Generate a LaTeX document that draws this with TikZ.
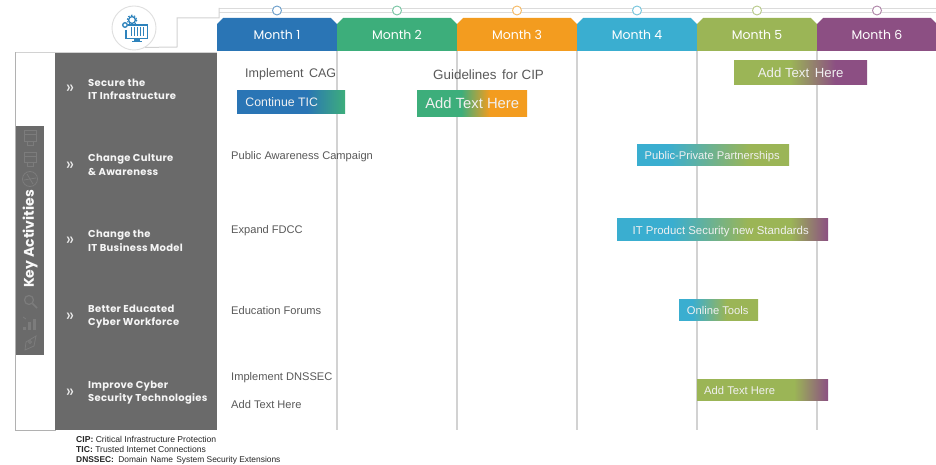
\documentclass[tikz,border=0pt]{standalone}
\usepackage{fontspec}
\setmainfont{Liberation Sans}
\newfontfamily\gothic{Poppins}
\newfontfamily\gothicwide[LetterSpace=3]{Poppins}
\usetikzlibrary{shapes.misc,shapes.geometric}
\definecolor{cA}{HTML}{2A75B5}
\definecolor{cB}{HTML}{3DAE7B}
\definecolor{cC}{HTML}{F39C1F}
\definecolor{cD}{HTML}{3AAED0}
\definecolor{cE}{HTML}{9BB556}
\definecolor{cF}{HTML}{8C4F83}
\definecolor{panel}{HTML}{6A6A6A}
\definecolor{gridc}{HTML}{D2D2D2}
\definecolor{body}{HTML}{595959}
\definecolor{faint}{HTML}{7C7C7C}
\pgfdeclarehorizontalshading{sTic}{100bp}{color(0bp)=(cA);color(57bp)=(cA);color(75bp)=(cB);color(100bp)=(cB)}
\pgfdeclarehorizontalshading{sAdd}{100bp}{color(0bp)=(cB);color(45bp)=(cB);color(58bp)=(cC);color(100bp)=(cC)}
\pgfdeclarehorizontalshading{sTop}{100bp}{color(0bp)=(cE);color(46bp)=(cE);color(63bp)=(cF);color(100bp)=(cF)}
\pgfdeclarehorizontalshading{sPub}{100bp}{color(0bp)=(cD);color(35bp)=(cD);color(62bp)=(cE);color(100bp)=(cE)}
\pgfdeclarehorizontalshading{sIT}{100bp}{color(0bp)=(cD);color(38bp)=(cD);color(56bp)=(cE);color(66bp)=(cE);color(75bp)=(cF);color(100bp)=(cF)}
\pgfdeclarehorizontalshading{sOnl}{100bp}{color(0bp)=(cD);color(33bp)=(cD);color(55bp)=(cE);color(100bp)=(cE)}
\pgfdeclarehorizontalshading{sLast}{100bp}{color(0bp)=(cE);color(62bp)=(cE);color(75bp)=(cF);color(100bp)=(cF)}
\tikzset{
  x=1pt,y=-1pt,
  tab/.style={chamfered rectangle,chamfered rectangle corners={north west,north east},chamfered rectangle xsep=3pt,chamfered rectangle ysep=3pt,
    minimum width=119.6pt,minimum height=33pt,inner sep=0pt,fill=#1,text=white,font=\gothic\fontsize{12.5}{14}\selectfont},
  bar/.style={rectangle,inner sep=0pt,text=white!88!gray,text height=10pt,text depth=0pt,font=\fontsize{11.2}{13}\selectfont,anchor=north west},
  gridline/.style={gridc,line width=1.2pt},
  topline/.style={gridc!80,line width=0.9pt},
  dot/.style={circle,draw=#1,fill=white,line width=0.9pt,minimum size=9pt,inner sep=0pt},
  act/.style={anchor=west,align=left,inner sep=0pt,text=white!92!gray,font=\gothicwide\bfseries\fontsize{10}{13.5}\selectfont},
  chev/.style={anchor=center,text=white!85!gray,font=\gothic\fontsize{18}{18}\selectfont},
  note/.style={anchor=west,inner sep=0pt,text=body,font=\fontsize{11.1}{13}\selectfont},
  legend/.style={anchor=west,inner sep=0pt,text=black!85,font=\fontsize{8.6}{10}\selectfont},
  faintline/.style={faint,line width=0.8pt},
  iconline/.style={cA!75!cD,line width=1.1pt}
}
\begin{document}
\begin{tikzpicture}
\useasboundingbox (0,0) rectangle (936,465);
\fill[white] (0,0) rectangle (936,465);
% coordinates
\coordinate (bottom) at (0,430);
\coordinate (tlstart) at (219,8);
\coordinate (tlend) at (936,8);
\coordinate (tlstartb) at (219,12);
\coordinate (tlendb) at (936,12);
% timeline
\draw[topline] (tlstart) -- (tlend);
\draw[topline] (tlstartb) -- (tlendb);
% month tabs
\node[tab=cA] (m1) at (277,34.5) {Month 1};
\node[tab=cB] (m2) at (397,34.5) {Month 2};
\node[tab=cC] (m3) at (517,34.5) {Month 3};
\node[tab=cD] (m4) at (637,34.5) {Month 4};
\node[tab=cE] (m5) at (757,34.5) {Month 5};
\node[tab=cF] (m6) at (877,34.5) {Month 6};
% timeline dots
\node[dot=cA!70!white] (d1) at (277,10.5) {};
\node[dot=cB!70!white] (d2) at (397,10.5) {};
\node[dot=cC!70!white] (d3) at (517,10.5) {};
\node[dot=cD!70!white] (d4) at (637,10.5) {};
\node[dot=cE!70!white] (d5) at (757,10.5) {};
\node[dot=cF!70!white] (d6) at (877,10.5) {};
% month grid lines
\draw[gridline] (m1.south east) -- (m1.south east |- bottom);
\draw[gridline] (m2.south east) -- (m2.south east |- bottom);
\draw[gridline] (m3.south east) -- (m3.south east |- bottom);
\draw[gridline] (m4.south east) -- (m4.south east |- bottom);
\draw[gridline] (m5.south east) -- (m5.south east |- bottom);
% icon
\node[circle,draw=gridc!70,line width=0.9pt,minimum size=44pt,inner sep=0pt,fill=white] (icon) at (134,28) {};
\draw[gridc,line width=1pt] (icon.-60) -- (177,47) -- (177,18) -- (219,18) -- (tlstart);
\draw[iconline] (128,25) -- (147.5,25) -- (147.5,38.5) -- (126,38.5) -- (126,30);
\foreach \xx in {131,134,137,140,143} \draw[iconline,line width=0.9pt] (\xx,27) -- (\xx,36);
\fill[cA!75!cD] (134,39) rectangle (140,41);
\fill[cA!75!cD] (132,41) rectangle (142,42);
\draw[iconline,line width=1.3pt,fill=white] (132,20) circle (3.4);
\draw[iconline,dash pattern=on 1.5pt off 1.5pt,line width=1.1pt] (132,20) circle (4.8);
\draw[iconline,line width=1.3pt,fill=white] (125,25) circle (2.3);
% left panel
\draw[gridc!60!gray,line width=0.8pt] (15.5,52) rectangle (55,430);
\fill[panel] (55,52) rectangle (217,430);
\draw[gridc,line width=0.8pt] (15.5,52) -- (217,52);
% key activities strip
\fill[panel] (16,126) rectangle (44,355);
\node[rotate=90,text=white!95!gray,font=\gothic\bfseries\fontsize{14}{15}\selectfont,anchor=center] (key) at (30,239) {Key Activities};
\draw[faintline] (24,130) rectangle (36,141);\draw[faintline] (27,141) -- (27,145) -- (33,145) -- (33,141);\draw[faintline] (24,134) -- (36,134);
\draw[faintline] (24,152) rectangle (36,162);\draw[faintline] (27,162) -- (27,166) -- (33,166) -- (33,162);\draw[faintline] (24,156) -- (36,156);
\draw[faintline] (30,179) circle (7.5);\draw[faintline] (27,174) -- (33,184);\draw[faintline] (24,180) -- (36,178);
\draw[faintline,line width=1.2pt] (29,300) circle (4.5);\draw[faintline,line width=1.6pt] (32.5,303.5) -- (37,308);
\fill[faint] (23,327) rectangle (26,330);\fill[faint] (28,322) rectangle (31,330);\fill[faint] (33,319) rectangle (36,330);\draw[faintline] (23,317) -- (26,319);
\draw[faintline] (25,350) -- (26,342) -- (36,336) -- (34,346) -- cycle;\draw[faintline] (30,342) circle (1.5);
% activities
\node[chev] (c1) at (70,89) {»};
\node[act] (a1) at (88,89.5) {Secure the\\IT Infrastructure};
\node[chev] (c2) at (70,166) {»};
\node[act] (a2) at (88,165) {Change Culture\\\& Awareness};
\node[chev] (c3) at (70,241) {»};
\node[act] (a3) at (88,241) {Change the\\IT Business Model};
\node[chev] (c4) at (70,317) {»};
\node[act] (a4) at (88,316.5) {Better Educated\\Cyber Workforce};
\node[chev] (c5) at (70,393) {»};
\node[act] (a5) at (88,392.5) {Improve Cyber\\Security Technologies};
% row 1
\node[note,font=\fontsize{12.5}{14}\selectfont] (n1) at (245,74) {Implement\hspace{2pt} CAG};
\node[note,font=\fontsize{13.4}{15}\selectfont] (n2) at (433,75) {Guidelines\hspace{2pt} for CIP};
\node[bar,shading=sTic,minimum width=108pt,minimum height=23pt,font=\fontsize{12.3}{14}\selectfont] (b1) at (237,90) {\hspace{-19pt}Continue TIC};
\node[bar,shading=sAdd,minimum width=110pt,minimum height=26pt,font=\fontsize{14.8}{16}\selectfont] (b2) at (417,90) {Add Text Here};
\node[bar,shading=sTop,minimum width=133pt,minimum height=24pt,font=\fontsize{13.2}{15}\selectfont] (b3) at (734,60) {Add Text\hspace{2pt} Here};
% row 2
\node[note] (n3) at (231,157) {Public Awareness Campaign};
\node[bar,shading=sPub,minimum width=152pt,minimum height=21pt] (b4) at (637,144) {\hspace{-2pt}Public-Private Partnerships};
% row 3
\node[note] (n4) at (231,231) {Expand FDCC};
\node[bar,shading=sIT,minimum width=211pt,minimum height=22pt,font=\fontsize{11.4}{13}\selectfont] (b5) at (617,218) {\hspace{-4pt}IT Product Security new Standards};
% row 4
\node[note] (n5) at (231,311) {Education Forums};
\node[bar,shading=sOnl,minimum width=79pt,minimum height=21pt] (b6) at (679,299) {\hspace{-2pt}Online Tools};
% row 5
\node[note] (n6) at (231,378) {Implement DNSSEC};
\node[note] (n7) at (231,404.5) {Add Text Here};
\node[bar,shading=sLast,minimum width=131pt,minimum height=21pt] (b7) at (697,379) {\hspace{-46pt}Add Text Here};
% legend
\node[legend] (l1) at (76,439) {\textbf{CIP:} Critical Infrastructure Protection};
\node[legend] (l2) at (76,449.5) {\textbf{TIC:} Trusted Internet Connections};
\node[legend,font=\fontsize{8.4}{10}\selectfont] (l3) at (76,460) {\textbf{DNSSEC:}\hspace{2pt} Domain\hspace{1pt} Name\hspace{1pt} System Security Extensions};
\end{tikzpicture}
\end{document}
